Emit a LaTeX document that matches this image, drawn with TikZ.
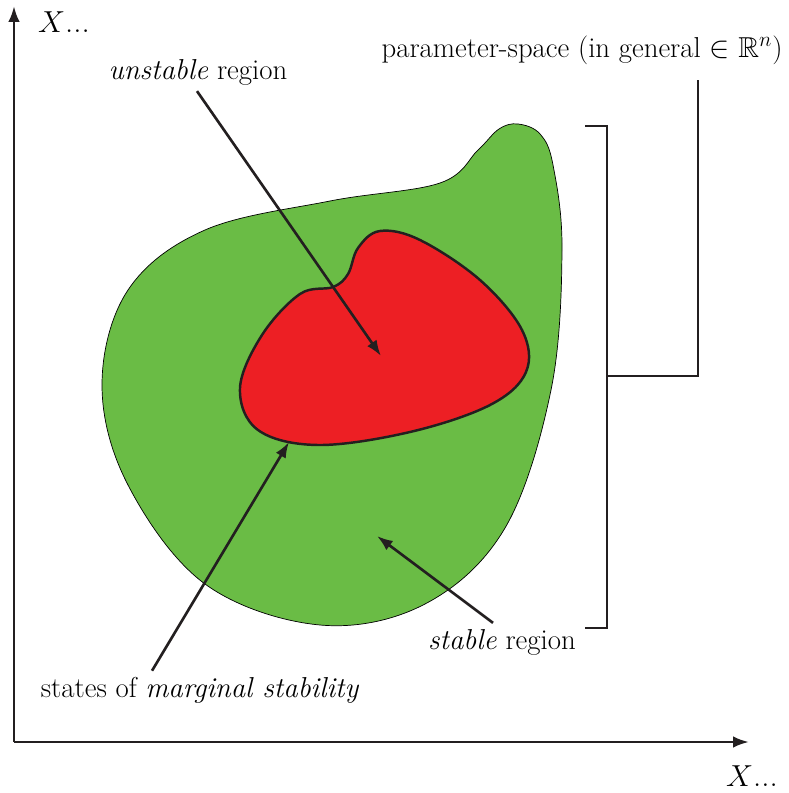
\documentclass[tikz,border=0pt]{standalone}
\usepackage{amsmath,amssymb}
\usepackage{tikz}
\usetikzlibrary{arrows.meta,positioning}
\definecolor{stablegreen}{RGB}{106,188,69}
\definecolor{unstablered}{RGB}{237,31,36}
\definecolor{linegray}{RGB}{35,31,32}

\begin{document}
\begin{tikzpicture}[x=0.02cm,y=-0.02cm,>={Latex[length=9pt,width=6.5pt]},
    font=\fontsize{16.4}{20}\selectfont,
    heavy/.style={line width=1.5pt,draw=linegray}]
  \useasboundingbox (0,0) rectangle (788,793);
  % axes
  \coordinate (orig) at (14,742);
  \coordinate (ytip) at (14,6);
  \coordinate (xtip) at (749,742);
  \draw[heavy,->] (orig) -- (ytip);
  \draw[heavy,->] (orig) -- (xtip);
  \node (yl) at (64,22) {\fontsize{18.7}{22}\selectfont $X$...};
  \node (xl) at (752,776) {\fontsize{18.7}{22}\selectfont $X$...};
  % stable region
  \draw[fill=stablegreen,draw=black,thin] plot[smooth cycle,tension=0.6] coordinates {
    (518,124) (540,134) (553,165) (562,250) (551,390) (505,528) (425,604)
    (320,625) (205,584) (128,485) (102,385) (128,290) (205,230)
    (330,201) (440,183) (478,150) (499,129)};
  % unstable region
  \draw[fill=unstablered,draw=linegray,line width=1.4pt] plot[smooth cycle,tension=0.6] coordinates {
    (240,388) (262,335) (300,294) (333,287) (348,274) (358,248) (380,231)
    (420,240) (480,280) (522,330) (526,372) (490,405) (410,432)
    (318,445) (258,430)};
  % labels
  \node (unst) at (198,72) {\textit{unstable} region};
  \node (stab) at (502,642) {\textit{stable} region};
  \node (marg) at (200,690) {states of \textit{marginal stability}};
  \node (param) at (582,50) {parameter-space (in general $\in\mathbb{R}^n$)};
  \coordinate (redc) at (381,356);
  \coordinate (rim) at (289,442);
  \coordinate (greenc) at (377,536);
  \draw[heavy,->] (unst.south -| 197,0) -- (redc);
  \draw[heavy,->] (marg.north -| 152,0) -- (rim);
  \draw[heavy,->] (stab.north -| 493,0) -- (greenc);
  % bracket
  \coordinate (btop) at (585,126);
  \coordinate (bbot) at (585,628);
  \coordinate (bmid) at (607,376);
  \coordinate (ptop) at (698,80);
  \draw[heavy] (btop) -| (607,628) -- (bbot);
  \draw[heavy] (bmid) -| (ptop);
\end{tikzpicture}
\end{document}
